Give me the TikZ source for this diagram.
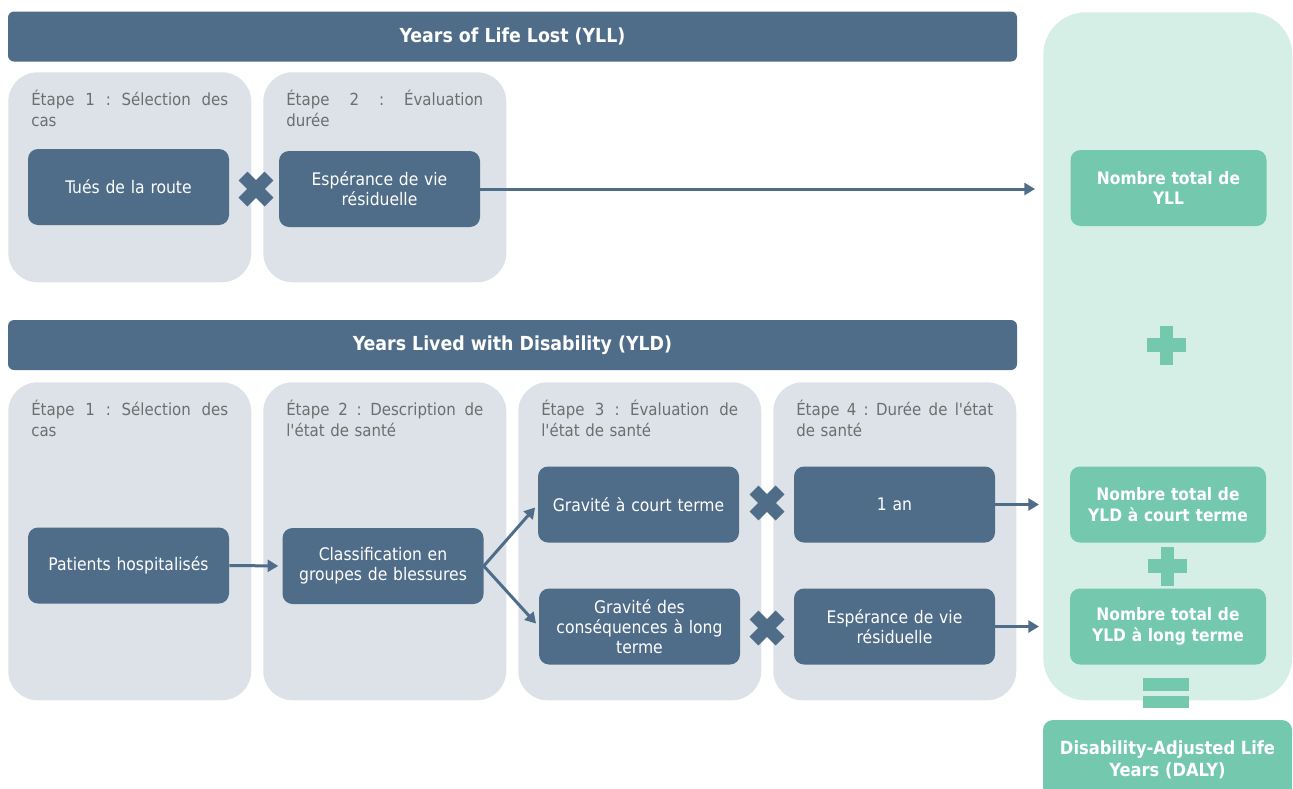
\documentclass[tikz,border=0pt]{standalone}
\usepackage{fontspec}
\setmainfont{DejaVu Sans Condensed}
\usetikzlibrary{arrows.meta}

\definecolor{slate}{HTML}{4F6D88}
\definecolor{stagegrey}{HTML}{DCE2E8}
\definecolor{mint}{HTML}{74C8AE}
\definecolor{mintpale}{HTML}{D5EEE6}
\definecolor{labelgrey}{HTML}{6E6E6E}

\newcommand{\fullline}[1]{{\frenchspacing\spaceskip=.3333em plus 1fil\relax
    \xspaceskip=\spaceskip\makebox[147.75pt][s]{#1}}}
\newcommand{\apos}{\textquotesingle}

\begin{document}
\begin{tikzpicture}[x=0.75pt, y=-0.75pt,
    banner/.style={fill=slate, rounded corners=4.5pt, minimum width=756.75pt,
        minimum height=37.5pt, inner sep=0pt, text=white,
        font=\bfseries\fontsize{14.5}{17}\selectfont},
    stage/.style={fill=stagegrey, rounded corners=22pt, minimum width=182.25pt,
        anchor=north west, inner sep=0pt},
    stagetitle/.style={anchor=north west, text width=147.75pt, inner sep=0pt,
        align=left, text=labelgrey, font=\fontsize{12.5}{15.75}\selectfont},
    block/.style={fill=slate, rounded corners=7.5pt, minimum width=150.75pt,
        minimum height=57pt, text width=142pt, inner sep=2pt, align=center,
        text=white, font=\fontsize{13}{15}\selectfont},
    total/.style={fill=mint, rounded corners=7.5pt, minimum width=147pt,
        minimum height=57pt, text width=142pt, inner sep=2pt, align=center,
        text=white, font=\bfseries\fontsize{12.9}{15.5}\selectfont},
    flow/.style={draw=slate, line width=2.25pt, -{Triangle[length=8pt,width=9pt]}},
    times/.style={draw=slate, line width=9.5pt}
]
    % Page frame
    \useasboundingbox (0,0) rectangle (1293,789);
    \clip (0,0) rectangle (1293,789);

    % Right-hand result panel
    \node[fill=mintpale, rounded corners=32pt, anchor=north west, inner sep=0pt,
        minimum width=186.75pt, minimum height=516pt] (panel) at (1043,12) {};

    % Banners
    \node[banner] (yllbar) at (512.5,36.5) {Years of Life Lost (YLL)};
    \node[banner] (yldbar) at (512.5,345) {Years Lived with Disability (YLD)};

    % YLL stages
    \node[stage, minimum height=157.5pt] (yllA) at (8,72) {};
    \node[stage, minimum height=157.5pt] (yllB) at (263,72) {};
    \node[stagetitle] (yllAtitle) at (31,90) {\fullline{Étape 1 : Sélection des}\\cas};
    \node[stagetitle] (yllBtitle) at (286,90) {\fullline{Étape 2 : Évaluation}\\durée};

    % YLD stages
    \foreach \sx/\sname in {8/yldA, 263/yldB, 518/yldC, 773/yldD} {
        \node[stage, minimum height=238.5pt] (\sname) at (\sx,382) {};
    }
    \node[stagetitle] (yldAtitle) at (31,400) {\fullline{Étape 1 : Sélection des}\\cas};
    \node[stagetitle] (yldBtitle) at (286,400) {\fullline{Étape 2 : Description de}\\l\apos état de santé};
    \node[stagetitle] (yldCtitle) at (541,400) {\fullline{Étape 3 : Évaluation de}\\l\apos état de santé};
    \node[stagetitle] (yldDtitle) at (796,400) {\fullline{Étape 4 : Durée de l\apos état}\\de santé};

    % YLL blocks
    \node[block] (killed) at (128.5,187) {Tués de la route};
    \node[block] (lifeA) at (379.5,189) {Espérance de vie\\résiduelle};
    \node[total] (totyll) at (1168.5,188) {Nombre total de\\YLL};

    % YLD blocks
    \node[block] (patients) at (128.5,565.5) {Patients hospitalisés};
    \node[block] (classes) at (383,566) {Classification en\\groupes de blessures};
    \node[block] (shortsev) at (638.5,504.5) {Gravité à court terme};
    \node[block] (longsev) at (639.5,626.5) {Gravité des\\conséquences à long\\terme};
    \node[block] (oneyear) at (894.5,504.5) {1 an};
    \node[block] (lifeB) at (894.5,626.5) {Espérance de vie\\résiduelle};
    \node[total] (totshort) at (1168,504.5) {Nombre total de\\YLD à court terme};
    \node[total] (totlong) at (1168,626.5) {Nombre total de\\YLD à long terme};

    % DALY result
    \node[fill=mint, rounded corners=7.5pt, minimum width=186.75pt, minimum height=60pt,
        inner sep=2pt, align=center, text=white,
        font=\bfseries\fontsize{13.6}{16.5}\selectfont] (daly) at (1167.5,760)
        {Disability-Adjusted Life\\Years (DALY)};

    % Arrows
    \draw[flow, shorten >=6pt] (lifeA.east) -- (lifeA.east -| panel.west);
    \draw[flow, shorten >=3pt] (patients.east) -- (classes.west);
    \draw[flow, shorten >=3pt] (classes.east) -- (shortsev.west);
    \draw[flow, shorten >=3pt] (classes.east) -- (longsev.west);
    \draw[flow, shorten >=3pt] (oneyear.east) -- (oneyear.east -| panel.west);
    \draw[flow, shorten >=3pt] (lifeB.east) -- (lifeB.east -| panel.west);

    % Multiplication signs
    \foreach \cx/\cy in {256/189, 767/503, 767/628} {
        \draw[times] (\cx-13,\cy-13) -- (\cx+13,\cy+13);
        \draw[times] (\cx-13,\cy+13) -- (\cx+13,\cy-13);
    }

    % Plus signs
    \foreach \cx/\cy in {1166.5/345, 1167.5/566} {
        \fill[mint] (\cx-19.5,\cy-6.75) rectangle (\cx+19.5,\cy+6.75);
        \fill[mint] (\cx-6.75,\cy-19.5) rectangle (\cx+6.75,\cy+19.5);
    }

    % Equals sign
    \fill[mint] (1143,678) rectangle (1189,691);
    \fill[mint] (1143,696) rectangle (1189,708);
\end{tikzpicture}
\end{document}
